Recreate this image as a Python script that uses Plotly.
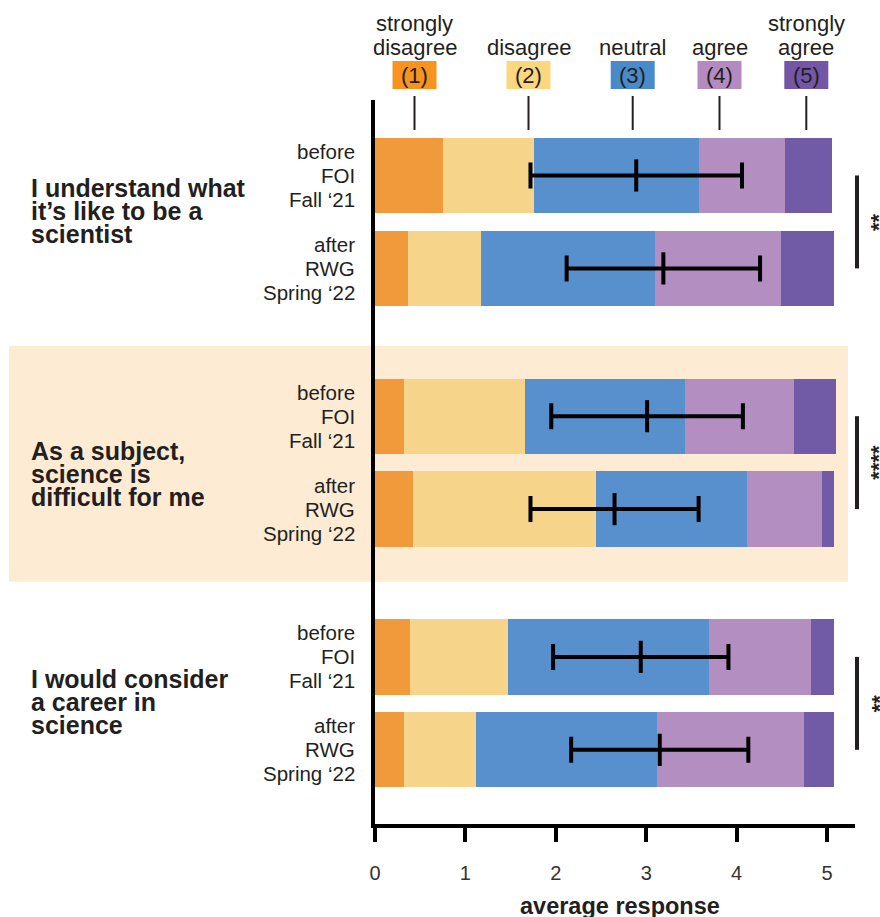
import plotly.graph_objects as go

# ---- data -------------------------------------------------------------
statements = [
    ["I understand what", "it’s like to be a", "scientist"],
    ["As a subject,", "science is", "difficult for me"],
    ["I would consider", "a career in", "science"],
]
timepoints = [["before", "FOI", "Fall ‘21"], ["after", "RWG", "Spring ‘22"]]
level_names = [["strongly", "disagree"], ["disagree"], ["neutral"], ["agree"], ["strongly", "agree"]]
level_codes = ["(1)", "(2)", "(3)", "(4)", "(5)"]

# share of answers per level, on the 0-5 response scale
# order: statement 1 before/after, statement 2 before/after, statement 3 before/after
strongly_disagree = [0.75, 0.37, 0.32, 0.42, 0.39, 0.32]
disagree = [1.01, 0.80, 1.34, 2.03, 1.08, 0.80]
neutral = [1.82, 1.93, 1.77, 1.67, 2.22, 2.00]
agree = [0.96, 1.39, 1.20, 0.82, 1.13, 1.63]
strongly_agree = [0.52, 0.59, 0.47, 0.14, 0.26, 0.33]

mean_response = [2.89, 3.19, 3.01, 2.65, 2.94, 3.15]
sd_response = [1.17, 1.07, 1.06, 0.93, 0.97, 0.98]

significance = ["**", "****", "**"]
x_ticks = [0, 1, 2, 3, 4, 5]

# ---- styling ----------------------------------------------------------
W, H = 880, 917
M_L, M_R, M_T, M_B = 375, 25, 100, 92.5
X_MAX = 5.31
GROUP_STEP, BAR_STEP = 2.59, 1.0
Y_TOP, Y_BOTTOM = -0.812, 6.978
BAR_W = 0.81

bar_colors = ["#F19A3B", "#F6D48A", "#5890CD", "#B38EC1", "#715AA6"]
key_colors = ["#F7931E", "#FDD680", "#488ACA", "#B48BC1", "#7356A4"]
ink = "#231F20"
band_color = "#FDEBD4"
FONT = "Arial, Liberation Sans, sans-serif"

plot_w = W - M_L - M_R
plot_h = H - M_T - M_B


def fx(px):
    """pixel column -> paper x"""
    return (px - M_L) / plot_w


def fy(py):
    """pixel row -> paper y"""
    return (H - M_B - py) / plot_h


def y_to_px(y):
    return M_T + (y - Y_TOP) / (Y_BOTTOM - Y_TOP) * plot_h


positions = [g * GROUP_STEP + k * BAR_STEP for g in range(len(statements)) for k in range(2)]

fig = go.Figure()

segments = [strongly_disagree, disagree, neutral, agree, strongly_agree]
for seg, col, code in zip(segments, bar_colors, level_codes):
    fig.add_trace(go.Bar(
        x=seg, y=positions, orientation="h", width=BAR_W,
        marker=dict(color=col, line=dict(width=0)),
        name=code, showlegend=False, hoverinfo="x",
    ))

# mean ± SD
fig.add_trace(go.Scatter(
    x=mean_response, y=positions, mode="markers",
    marker=dict(symbol="line-ns", size=23, line=dict(width=4, color="black"), color="black"),
    error_x=dict(type="data", array=sd_response, visible=True, color="black",
                 thickness=4, width=13),
    showlegend=False, hoverinfo="x",
))

shapes = []
annotations = []

# shaded band behind the middle statement
shapes.append(dict(type="rect", xref="paper", yref="paper", layer="below",
                   x0=fx(9), x1=fx(848), y0=fy(346), y1=fy(582),
                   fillcolor=band_color, line=dict(width=0)))

# response key at the top
key_centers = [414.5, 528.5, 632.7, 719.5, 806.3]
for name_lines, code, col, cx in zip(level_names, level_codes, key_colors, key_centers):
    shapes.append(dict(type="rect", xref="paper", yref="paper",
                       x0=fx(cx - 22), x1=fx(cx + 22), y0=fy(89), y1=fy(61),
                       fillcolor=col, line=dict(width=0)))
    shapes.append(dict(type="line", xref="paper", yref="paper",
                       x0=fx(cx), x1=fx(cx), y0=fy(96), y1=fy(130),
                       line=dict(color=ink, width=2)))
    annotations.append(dict(xref="paper", yref="paper", x=fx(cx), y=fy(75),
                            text=code, showarrow=False, xanchor="center", yanchor="middle",
                            font=dict(family=FONT, size=22, color=ink)))
    rows = [47] if len(name_lines) == 1 else [23, 47]
    for txt, ry in zip(name_lines, rows):
        annotations.append(dict(xref="paper", yref="paper", x=fx(cx), y=fy(ry),
                                text=txt, showarrow=False, xanchor="center", yanchor="middle",
                                font=dict(family=FONT, size=22, color=ink)))

# timepoint labels beside each bar
for i, pos in enumerate(positions):
    cy = y_to_px(pos)
    for j, txt in enumerate(timepoints[i % 2]):
        annotations.append(dict(xref="paper", yref="paper", x=fx(357), y=fy(cy + (j - 1) * 24),
                                text=txt, showarrow=False, xanchor="right", yanchor="middle",
                                font=dict(family=FONT, size=20.5, color=ink)))

# statement labels
label_centers = [211, 474, 702]
for lines, cy in zip(statements, label_centers):
    for j, txt in enumerate(lines):
        annotations.append(dict(xref="paper", yref="paper", x=fx(29), y=fy(cy + (j - 1) * 23),
                                text=f"<b>{txt}</b>", showarrow=False, xanchor="left",
                                yanchor="middle",
                                font=dict(family=FONT, size=25, color=ink)))

# significance brackets
for g, stars in enumerate(significance):
    y0 = y_to_px(positions[2 * g])
    y1 = y_to_px(positions[2 * g + 1])
    shapes.append(dict(type="line", xref="paper", yref="paper",
                       x0=fx(857), x1=fx(857), y0=fy(y0), y1=fy(y1),
                       line=dict(color=ink, width=4)))
    annotations.append(dict(xref="paper", yref="paper", x=fx(879), y=fy((y0 + y1) / 2),
                            text=f"<b>{stars}</b>", textangle=-90, showarrow=False,
                            xanchor="center", yanchor="middle",
                            font=dict(family=FONT, size=22, color=ink)))

# axis title
annotations.append(dict(xref="paper", yref="paper", x=fx(620), y=fy(907),
                        text="<b>average response</b>", showarrow=False,
                        xanchor="center", yanchor="middle",
                        font=dict(family=FONT, size=23.5, color=ink)))

fig.update_layout(
    width=W, height=H,
    margin=dict(l=M_L, r=M_R, t=M_T, b=M_B, pad=0),
    barmode="stack", bargap=0,
    paper_bgcolor="white", plot_bgcolor="rgba(0,0,0,0)",
    shapes=shapes, annotations=annotations,
    font=dict(family=FONT, color=ink),
    xaxis=dict(range=[0, X_MAX], tickvals=x_ticks, ticktext=[str(t) for t in x_ticks],
               showgrid=False, zeroline=False, showline=True, linewidth=4, linecolor="black",
               ticks="outside", ticklen=14, tickwidth=3.5, tickcolor="black",
               ticklabelstandoff=14,
               tickfont=dict(family=FONT, size=20, color="#333333"), fixedrange=True),
    yaxis=dict(range=[Y_BOTTOM, Y_TOP], showgrid=False, zeroline=False, showline=True,
               linewidth=4, linecolor="black", showticklabels=False, ticks="",
               fixedrange=True),
)

fig.write_html("out.html")
